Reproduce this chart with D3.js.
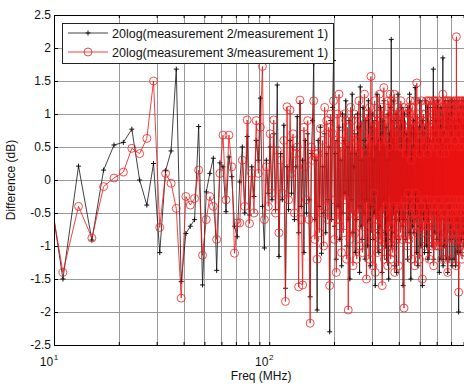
<!DOCTYPE html>
<meta charset="utf-8">
<style>
body { margin: 0; background: #fff; }
svg { font-family: "Liberation Sans", Arial, sans-serif; }
</style>
<svg width="464" height="386"></svg>
<script src="https://d3js.org/d3.v7.min.js"></script>
<script>
// measurement grid (MHz), 2 MHz steps
const freqStart = 9, freqStep = 2
// 20log(measurement 2/measurement 1), dB
const ratio21 = [
  0.40,-1.50,0.21,-0.91,0.15,0.53,0.57,0.77,0.00,-0.38,
  0.25,-1.10,0.14,0.44,1.68,-1.54,-0.81,-0.70,-0.60,0.81,
  -1.59,-0.18,0.10,0.33,-1.37,0.26,0.20,-0.48,0.35,0.05,
  -0.70,-0.86,-0.03,0.50,-0.50,0.66,-0.53,0.20,-0.25,0.60,
  0.30,1.24,-0.40,-1.03,0.30,-0.20,0.50,-0.30,0.70,-0.45,
  1.44,-1.16,0.40,-0.30,0.83,-1.64,0.20,-0.45,0.60,-0.20,
  0.50,-0.60,0.20,0.96,-0.80,1.16,-0.40,0.30,-1.10,0.60,
  -0.50,0.70,-0.30,-1.77,0.40,0.90,1.77,-0.60,0.30,-1.97,
  0.60,-0.40,0.80,-1.11,0.20,-0.50,0.70,-0.80,0.40,-0.30,
  0.50,-2.30,0.90,-0.60,1.10,1.81,-0.70,0.40,-1.20,0.60,
  -0.40,0.80,-0.90,0.30,-1.30,1.00,-0.50,0.60,-0.20,1.20,
  -1.00,0.50,-0.60,0.90,-1.50,0.40,-0.30,1.30,-0.80,0.20,
  0.70,-1.10,0.40,-0.60,1.00,-0.40,0.80,-1.40,1.41,-0.70,
  0.30,-0.90,1.10,-0.50,0.60,-1.20,0.90,-0.30,0.50,-1.00,
  1.20,-0.60,0.40,-1.30,0.80,-0.40,1.00,-0.90,0.30,-0.50,
  0.90,-1.60,0.50,-0.20,1.30,-0.80,0.60,-1.10,0.40,-0.70,
  1.10,-0.40,0.70,-1.40,0.90,-0.30,1.20,-0.80,0.50,-1.00,
  0.80,-1.20,0.30,-0.60,1.00,-1.50,0.70,-0.20,1.10,-0.90,
  2.13,-1.00,0.60,-0.80,1.20,-0.50,0.90,-1.30,0.40,-0.60,
  1.00,-1.40,0.50,-0.30,1.30,-0.90,0.80,-0.60,0.40,-0.50,
  0.90,-0.50,1.10,-0.70,0.30,-1.60,0.80,-0.20,1.00,-0.60,
  0.50,-0.90,0.70,-0.30,0.60,-1.20,1.10,-0.50,0.20,-0.80,
  1.30,-0.40,0.70,-1.50,0.80,-0.20,0.40,-0.70,0.50,-0.30,
  0.90,-0.80,0.40,-0.60,1.40,-0.50,0.70,-1.10,0.30,-0.30,
  0.60,-1.30,0.20,-0.40,0.80,-0.70,1.20,-0.50,0.30,-1.00,
  0.40,-0.50,0.70,-1.60,0.90,-0.30,0.20,-0.60,0.50,-1.10,
  0.80,-0.20,1.20,-0.50,0.40,-1.00,0.30,-0.40,1.10,-1.20,
  0.70,-0.60,0.20,-1.10,0.60,-0.50,1.10,-0.30,0.40,-0.70,
  0.30,-1.00,0.80,-0.40,0.90,1.68,-1.20,0.70,-0.30,0.20,
  -0.80,0.60,-0.20,1.10,-0.50,0.30,-0.90,0.90,-0.20,1.20,
  -0.40,0.50,-0.60,0.20,-1.40,0.70,-0.40,1.10,-0.30,0.80,
  -1.20,0.30,-0.50,1.10,-0.20,0.60,1.85,-1.30,0.80,-0.40,
  0.40,-1.00,0.70,-0.30,1.20,-0.60,0.20,-1.20,0.50,-0.30,
  1.10,-0.50,0.30,-1.40,1.00,-0.20,0.60,-0.40,1.20,-0.60,
  0.30,-1.20,1.10,-0.40,0.20,-0.90,1.20,-0.30,0.70,-1.30,
  0.40,-0.60,1.20,-0.20,0.60,-0.80,0.30,-1.20,0.90,-0.50,
  1.20,-0.30,0.80,-1.30,0.30,-0.40,0.90,-0.60,0.20,-1.10,
  0.70,-0.20,1.20,-0.50,0.30,-2.00,1.00,-0.50,0.40,-0.90,
  0.20,-1.10,1.10,-0.30,0.60,-0.50,0.80,-0.90,1.20,-0.20,
  0.40,-0.80,0.90,-0.30,1.20,-0.50,0.30,-1.00,0.80,-0.40,
  1.00,-0.30,0.50,-0.70,0.80,-1.10,0.30,-0.80,0.90,-0.20,1.00
]
// 20log(measurement 3/measurement 1), dB
const ratio31 = [
  0.30,-1.40,-0.40,-0.88,-0.10,0.03,0.12,0.48,0.40,0.63,
  1.50,-0.72,0.10,-0.05,-0.43,-1.79,-0.25,-0.38,-0.28,0.15,
  -1.14,-0.60,-0.25,-0.40,-0.90,0.10,0.68,-0.30,0.68,0.20,
  -1.11,-0.65,-0.65,0.30,-0.40,0.91,-0.66,0.10,-0.50,0.90,
  0.10,0.80,1.72,-0.60,0.20,-0.40,0.70,-0.20,0.91,-0.50,
  0.45,-0.80,0.30,-0.20,0.60,-1.84,1.11,-0.30,1.06,0.10,
  0.70,-0.50,0.40,0.50,-1.62,1.21,-0.60,-1.59,0.80,0.20,
  -0.30,0.90,-0.60,-2.17,0.50,0.30,1.20,-0.90,0.40,-1.20,
  0.40,-0.80,0.78,-0.50,0.60,-1.00,1.10,-0.40,0.90,-0.60,
  0.80,-1.60,1.00,-0.30,0.70,1.20,-0.90,0.60,-1.40,1.00,
  -0.60,1.30,-0.70,0.50,-1.10,0.70,-0.80,1.00,-0.30,0.90,
  -1.20,0.80,-1.97,0.60,-0.90,1.10,-0.50,0.90,-1.30,0.40,
  1.00,-0.80,0.70,-1.20,0.60,-0.50,1.20,-1.00,0.80,-0.40,
  0.90,-1.10,0.50,-0.70,1.30,-0.90,0.40,-1.50,1.00,-0.60,
  0.70,-1.20,1.10,-0.40,1.57,-0.80,0.60,-1.30,0.90,-0.20,
  1.20,-1.40,0.80,-0.60,1.00,-1.10,0.90,-0.70,1.30,-0.90,
  0.60,-1.00,1.10,-1.60,0.70,-0.50,1.40,-1.20,0.90,-0.40,
  1.00,-0.80,0.60,-1.30,1.20,-1.00,0.50,-0.70,1.30,-1.20,
  1.20,-0.70,0.90,-1.10,1.00,-0.40,1.30,-1.40,0.80,-0.90,
  0.70,-0.90,1.10,-0.50,0.90,-1.30,1.00,-0.40,0.50,-0.80,
  1.20,-0.60,0.50,-0.90,1.00,-0.40,1.10,-1.94,0.70,-0.30,
  0.90,-0.70,0.40,-0.40,0.80,-1.00,0.60,-0.20,1.10,-0.90,
  1.00,-0.30,1.20,-0.50,0.30,-1.20,1.10,-0.60,0.90,-0.40,
  0.50,-0.70,0.80,-1.30,1.20,-0.20,0.90,-0.80,1.47,-0.60,
  1.00,-0.30,0.60,-0.60,0.80,-1.20,0.40,-0.70,0.60,-0.40,
  1.20,-0.80,0.90,-1.50,0.70,-0.50,1.00,-0.30,0.70,-0.70,
  0.50,-1.00,1.00,-0.60,1.20,-0.30,0.80,-0.70,0.40,-0.80,
  1.20,-0.40,0.90,-1.20,0.50,-0.60,1.20,-0.30,0.80,-0.90,
  0.60,-1.00,1.10,-0.40,1.20,0.50,-1.30,0.90,-0.50,1.20,
  -0.60,0.70,-0.40,1.20,-1.00,0.50,-0.30,1.10,-0.70,0.90,
  -1.00,1.20,-0.50,0.60,-0.80,1.10,-0.30,0.80,-1.00,0.40,
  -0.40,1.00,-1.20,0.70,-0.60,1.10,1.30,-0.50,1.00,-0.90,
  1.20,-0.50,0.70,-0.90,0.40,-1.20,1.20,-0.30,1.10,-0.60,
  0.60,-0.90,1.20,-1.40,0.50,-0.40,0.90,-0.80,1.20,-0.30,
  1.10,-0.60,0.70,-0.40,1.20,-0.70,0.50,-1.20,1.00,-0.50,
  0.70,-0.80,1.10,-0.30,0.90,-0.90,1.20,-0.50,0.60,-0.80,
  1.10,-0.40,0.60,-0.90,1.20,-1.30,2.17,-0.50,0.80,-0.70,
  1.00,-0.60,1.20,-0.30,0.70,-1.70,0.90,-0.40,1.20,-1.00,
  0.50,-0.90,1.00,-0.50,1.10,-0.30,1.20,-0.80,0.60,-1.20,
  1.00,-0.40,1.20,-0.90,0.50,-0.60,1.10,-0.30,1.20,-0.80,
  0.70,-1.10,1.00,-0.50,1.20,-0.40,0.90,-0.70,1.10,-0.30,1.20
]
const yTicks = [-2.5, -2, -1.5, -1, -0.5, 0, 0.5, 1, 1.5, 2, 2.5]
const decades = [10, 100]
const legendLabels = ['20log(measurement 2/measurement 1)', '20log(measurement 3/measurement 1)']

const freqs = ratio21.map((d, i) => freqStart + i * freqStep)

const svg = d3.select('svg')
const pLeft = 54, pTop = 15, pBottom = 345, pRight = 467

const x = d3.scaleLog().domain([10, 830]).range([pLeft, pRight])
const y = d3.scaleLinear().domain([-2.5, 2.5]).range([pBottom, pTop])

svg.append('defs').append('clipPath').attr('id', 'plot')
  .append('rect').attr('x', pLeft).attr('y', pTop)
  .attr('width', pRight - pLeft).attr('height', pBottom - pTop)

// grid
const grid = svg.append('g').attr('stroke', '#9a9a9a').attr('stroke-width', 1)
grid.selectAll('line.gx')
  .data(x.ticks())
  .enter().append('line')
  .attr('x1', d => Math.round(x(d)) + 0.5).attr('x2', d => Math.round(x(d)) + 0.5)
  .attr('y1', pTop).attr('y2', pBottom)
grid.selectAll('line.gy')
  .data(yTicks)
  .enter().append('line')
  .attr('x1', pLeft).attr('x2', pRight)
  .attr('y1', d => Math.round(y(d)) + 0.5).attr('y2', d => Math.round(y(d)) + 0.5)

// series
const plot = svg.append('g').attr('clip-path', 'url(#plot)')
const line = d3.line().x(d => x(d[0])).y(d => y(d[1]))

const s21 = freqs.map((f, i) => [f, ratio21[i]])
const s31 = freqs.map((f, i) => [f, ratio31[i]])

plot.append('path').datum(s21)
  .attr('fill', 'none').attr('stroke', '#111').attr('stroke-width', 0.8)
  .attr('d', line)
plot.append('g').selectAll('path')
  .data(s21)
  .enter().append('path')
  .attr('d', d => `M${x(d[0]) - 2.5},${y(d[1])}h5M${x(d[0])},${y(d[1]) - 2.5}v5`)
  .attr('stroke', '#111').attr('stroke-width', 1)

plot.append('path').datum(s31)
  .attr('fill', 'none').attr('stroke', '#ee1111').attr('stroke-width', 0.8)
  .attr('d', line)
plot.append('g').selectAll('circle')
  .data(s31)
  .enter().append('circle')
  .attr('cx', d => x(d[0])).attr('cy', d => y(d[1])).attr('r', 4)
  .attr('fill', 'none').attr('stroke', '#ee2222').attr('stroke-width', 0.8)

// axes box
svg.append('rect')
  .attr('x', pLeft + 0.5).attr('y', pTop + 0.5)
  .attr('width', pRight - pLeft).attr('height', pBottom - pTop)
  .attr('fill', 'none').attr('stroke', '#000').attr('stroke-width', 1)

// tick marks
svg.append('g').attr('transform', `translate(0,${pBottom})`)
  .call(d3.axisBottom(x).tickValues(x.ticks()).tickSize(-3).tickFormat(''))
  .call(g => g.select('.domain').remove())
svg.append('g').attr('transform', `translate(0,${pTop})`)
  .call(d3.axisTop(x).tickValues(x.ticks()).tickSize(-3).tickFormat(''))
  .call(g => g.select('.domain').remove())
svg.append('g').attr('transform', `translate(${pLeft},0)`)
  .call(d3.axisLeft(y).tickValues(yTicks).tickSize(-4).tickFormat(''))
  .call(g => g.select('.domain').remove())

// y tick labels
svg.append('g').selectAll('text')
  .data(yTicks)
  .enter().append('text')
  .attr('x', pLeft - 3).attr('y', d => y(d) + 4)
  .attr('text-anchor', 'end').attr('font-size', 12).attr('fill', '#111')
  .text(d => d)

// x decade labels 10^n
const xl = svg.append('g').selectAll('text')
  .data(decades)
  .enter().append('text')
  .attr('x', d => x(d) - 5).attr('y', 366)
  .attr('font-size', 12).attr('fill', '#111').attr('text-anchor', 'middle')
xl.append('tspan').text('10')
xl.append('tspan').attr('font-size', 8).attr('dy', -6).attr('dx', 0.5)
  .text(d => Math.round(Math.log10(d)))

// axis titles
svg.append('text')
  .attr('x', x(100) - 8).attr('y', 380)
  .attr('text-anchor', 'middle').attr('font-size', 12).attr('fill', '#111')
  .text('Freq (MHz)')
svg.append('text')
  .attr('transform', `translate(15,${(pTop + pBottom) / 2}) rotate(-90)`)
  .attr('text-anchor', 'middle').attr('font-size', 12).attr('fill', '#111')
  .text('Difference (dB)')

// legend
const lg = svg.append('g')
lg.append('rect')
  .attr('x', 62.5).attr('y', 23.5).attr('width', 271).attr('height', 40)
  .attr('fill', '#fff').attr('stroke', '#222').attr('stroke-width', 1)
const rows = [33, 52]
lg.append('line').attr('x1', 68).attr('x2', 108).attr('y1', rows[0]).attr('y2', rows[0])
  .attr('stroke', '#111').attr('stroke-width', 0.8)
lg.append('path').attr('d', `M85.5,${rows[0]}h5M88,${rows[0] - 2.5}v5`)
  .attr('stroke', '#111')
lg.append('line').attr('x1', 68).attr('x2', 108).attr('y1', rows[1]).attr('y2', rows[1])
  .attr('stroke', '#ee1111').attr('stroke-width', 0.8)
lg.append('circle').attr('cx', 88).attr('cy', rows[1]).attr('r', 4)
  .attr('fill', 'none').attr('stroke', '#ee2222').attr('stroke-width', 0.8)
lg.selectAll('text.lab')
  .data(legendLabels)
  .enter().append('text')
  .attr('x', 112).attr('y', (d, i) => rows[i] + 5)
  .attr('font-size', 12.5).attr('fill', '#111')
  .text(d => d)
</script>
